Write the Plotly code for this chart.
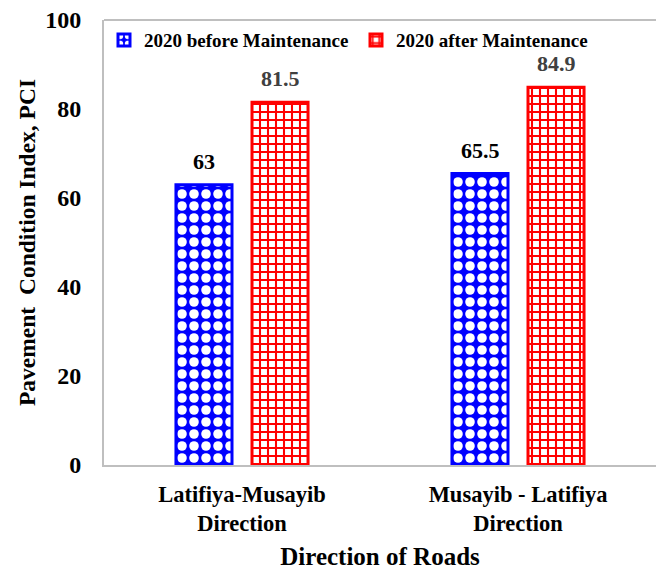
import plotly.graph_objects as go

categories = ["Latifiya-Musayib<br>Direction", "Musayib - Latifiya<br>Direction"]
before_vals = [63, 65.5]
after_vals = [81.5, 84.9]
series_names = ["2020 before Maintenance", "2020 after Maintenance"]
y_ticks = [0, 20, 40, 60, 80, 100]

FONT = "Times New Roman, Liberation Serif, serif"

fig = go.Figure()
fig.add_trace(go.Bar(
    x=categories, y=before_vals, name=series_names[0],
    marker=dict(color="blue", line=dict(color="blue", width=3),
                pattern=dict(shape=".", fgcolor="white", bgcolor="blue",
                             size=12, solidity=0.5, fillmode="overlay", fgopacity=1)),
))
fig.add_trace(go.Bar(
    x=categories, y=after_vals, name=series_names[1],
    marker=dict(color="white", line=dict(color="red", width=3),
                pattern=dict(shape="+", fgcolor="red", bgcolor="white",
                             size=8, solidity=0.45, fillmode="overlay", fgopacity=1)),
))

# value labels above bars
for vals, shift, col in [(before_vals, -38, "black"), (after_vals, 38, "#404040")]:
    for c, v in zip(categories, vals):
        fig.add_annotation(x=c, y=v, text=f"<b>{v:g}</b>", showarrow=False,
                           xshift=shift, yanchor="bottom", yshift=9,
                           font=dict(family=FONT, size=22, color=col))

# top frame line of the plot area
fig.add_shape(type="line", xref="paper", yref="paper", x0=0, x1=1, y0=1, y1=1,
              line=dict(color="#bfbfbf", width=2), layer="above")

fig.update_layout(
    width=656, height=572,
    margin=dict(l=104, r=0, t=20, b=107),
    paper_bgcolor="white", plot_bgcolor="white",
    barmode="group", bargap=0.449, bargroupgap=0.263,
    font=dict(family=FONT, color="black"),
    showlegend=True,
    legend=dict(orientation="h", x=0.0, xanchor="left", y=0.955, yanchor="middle",
                font=dict(family=FONT, size=19, color="black", weight="bold"),
                entrywidth=207, entrywidthmode="pixels",
                bgcolor="rgba(0,0,0,0)", itemwidth=30),
    xaxis=dict(showline=True, linecolor="#bfbfbf", linewidth=2,
               ticks="", showgrid=False, automargin=False, ticklabelstandoff=8,
               tickfont=dict(family=FONT, size=22.5, color="black", weight="bold"),
               title=dict(text="<b>Direction of Roads</b>", standoff=12,
                          font=dict(family=FONT, size=25, color="black"))),
    yaxis=dict(range=[0, 100], tickvals=y_ticks, showline=True, linecolor="#bfbfbf",
               linewidth=2, ticks="", showgrid=False, zeroline=False, automargin=False,
               ticklabelstandoff=16,
               tickfont=dict(family=FONT, size=24, color="black", weight="bold"),
               title=dict(text="<b>Pavement  Condition Index, PCI</b>", standoff=3,
                          font=dict(family=FONT, size=23.5, color="black"))),
)

fig.write_html("out.html", config={"displayModeBar": False},
               post_script="document.body.style.margin='0';")
